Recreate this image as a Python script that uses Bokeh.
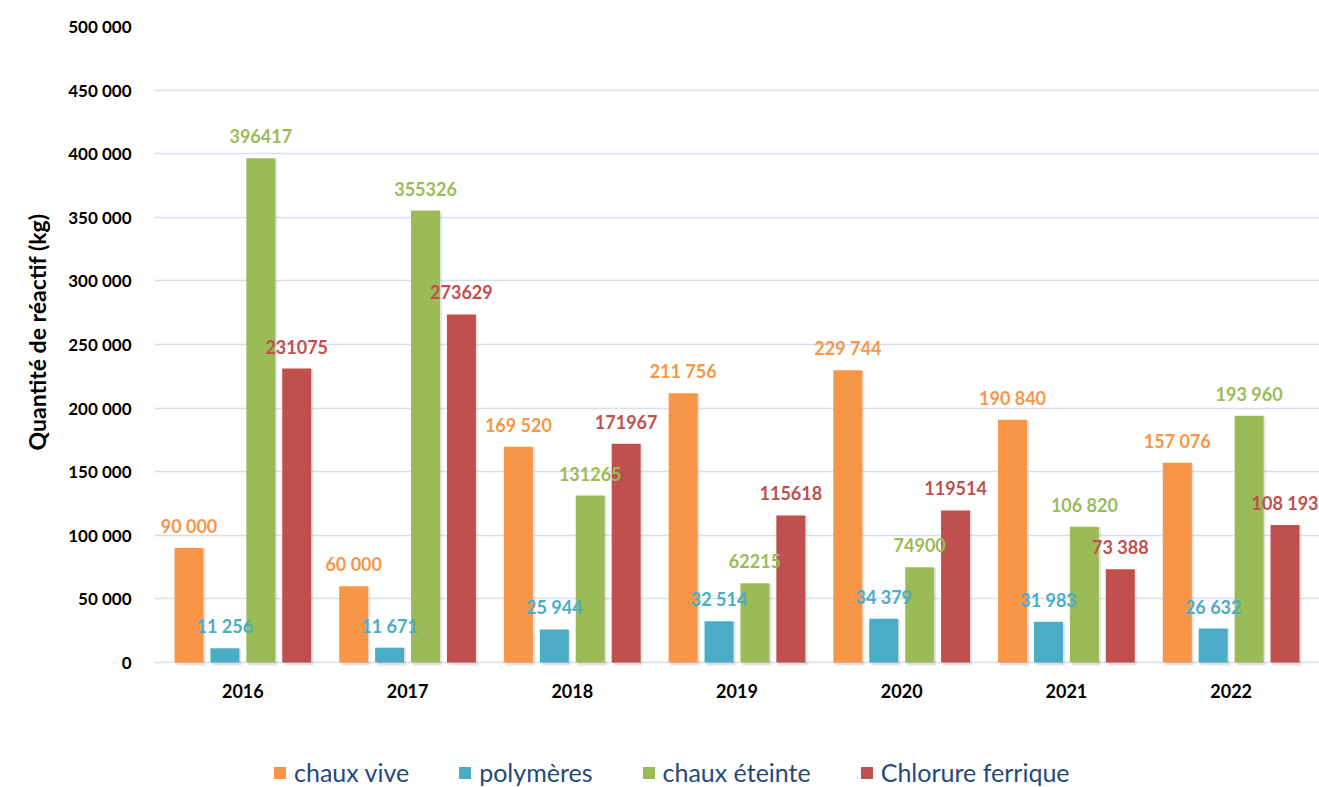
from bokeh.plotting import figure
from bokeh.models import (ColumnDataSource, FactorRange, Range1d, FixedTicker,
                          CustomJSTickFormatter, Legend, LegendItem, LabelSet,
                          Title)
from bokeh.transform import dodge
from bokeh.core.properties import value
from bokeh.embed import file_html
from bokeh.resources import INLINE

years = ["2016", "2017", "2018", "2019", "2020", "2021", "2022"]
series = ["chaux vive", "polymères", "chaux éteinte", "Chlorure ferrique"]
chaux_vive = [90000, 60000, 169520, 211756, 229744, 190840, 157076]
polymeres = [11256, 11671, 25944, 32514, 34379, 31983, 26632]
chaux_eteinte = [396417, 355326, 131265, 62215, 74900, 106820, 193960]
chlorure = [231075, 273629, 171967, 115618, 119514, 73388, 108193]

lbl_chaux_vive = ["90 000", "60 000", "169 520", "211 756", "229 744", "190 840", "157 076"]
lbl_polymeres = ["11 256", "11 671", "25 944", "32 514", "34 379", "31 983", "26 632"]
lbl_chaux_eteinte = ["396417", "355326", "131265", "62215", "74900", "106 820", "193 960"]
lbl_chlorure = ["231075", "273629", "171967", "115618", "119514", "73 388", "108 193"]

colors = ["#F79646", "#4BACC6", "#9BBB59", "#C0504D"]
y_ticks = [0, 50000, 100000, 150000, 200000, 250000, 300000, 350000, 400000, 450000, 500000]

FONT = "Lato"

p = figure(x_range=FactorRange(*years, range_padding=0.0364,
                               range_padding_units="absolute"),
           y_range=Range1d(-98270, 500000),
           frame_width=1165, frame_height=761,
           output_backend="svg", toolbar_location=None,
           min_border_left=154, min_border_right=0, min_border_top=26,
           min_border_bottom=0)
p.outline_line_color = None
p.background_fill_color = "white"
p.xaxis.visible = False

offsets = [-0.327, -0.109, 0.109, 0.327]
bw = 0.176

src = ColumnDataSource(dict(
    years=years, zero=[0] * len(years),
    v0=chaux_vive, v1=polymeres, v2=chaux_eteinte, v3=chlorure,
    s0=[v - 700 for v in chaux_vive], s1=[v - 700 for v in polymeres],
    s2=[v - 700 for v in chaux_eteinte], s3=[v - 700 for v in chlorure],
    l0=lbl_chaux_vive, l1=lbl_polymeres, l2=lbl_chaux_eteinte, l3=lbl_chlorure,
))

items = []
for i in range(4):
    p.vbar(x=dodge("years", offsets[i] + 0.012, range=p.x_range), top="s%d" % i,
           bottom=-2400, width=bw, source=src, fill_color="#000000",
           fill_alpha=0.10, line_color=None)
for i in range(4):
    r = p.vbar(x=dodge("years", offsets[i], range=p.x_range), top="v%d" % i,
               bottom=0, width=bw, source=src, fill_color=colors[i],
               line_color=None)
    items.append(LegendItem(label=series[i], renderers=[r]))
    ls = LabelSet(x=dodge("years", offsets[i], range=p.x_range), y="v%d" % i,
                  text="l%d" % i, source=src, text_align="center",
                  text_baseline="middle", y_offset=22, text_color=colors[i],
                  text_font=value(FONT), text_font_style="bold",
                  text_font_size="18px")
    p.add_layout(ls)

# category labels under the baseline
p.add_layout(LabelSet(x="years", y="zero", text="years", source=src,
                      text_align="center", text_baseline="middle",
                      y_offset=-28, text_color="#000000",
                      text_font=value(FONT), text_font_style="bold",
                      text_font_size="18px"))

p.xgrid.grid_line_color = None
p.ygrid.grid_line_color = "#D6E0EE"
p.ygrid.grid_line_width = 1.5
p.yaxis.ticker = FixedTicker(ticks=y_ticks)
p.yaxis.formatter = CustomJSTickFormatter(
    code="return tick.toString().replace(/\\B(?=(\\d{3})+(?!\\d))/g, ' ');")

p.yaxis.axis_line_color = None
p.yaxis.major_tick_line_color = None
p.yaxis.minor_tick_line_color = None
p.yaxis.major_label_standoff = 17
p.yaxis.major_label_text_font = FONT
p.yaxis.major_label_text_font_style = "bold"
p.yaxis.major_label_text_font_size = "17px"
p.yaxis.major_label_text_color = "#000000"

ytitle = Title(text="Quantité de réactif (kg)", align="right", offset=187,
               text_font=FONT, text_font_style="bold", text_font_size="23px",
               text_color="#000000", standoff=30)
p.add_layout(ytitle, "left")

legend = Legend(items=items, orientation="horizontal", location=(118, 0),
                label_text_font=FONT, label_text_font_size="25px",
                label_text_color="#244A7C", glyph_width=15, glyph_height=15,
                spacing=48, label_standoff=7, border_line_color=None,
                background_fill_alpha=0, margin=0, padding=0,
                label_height=24)
p.add_layout(legend)

open("out.html", "w").write(file_html(p, INLINE))
